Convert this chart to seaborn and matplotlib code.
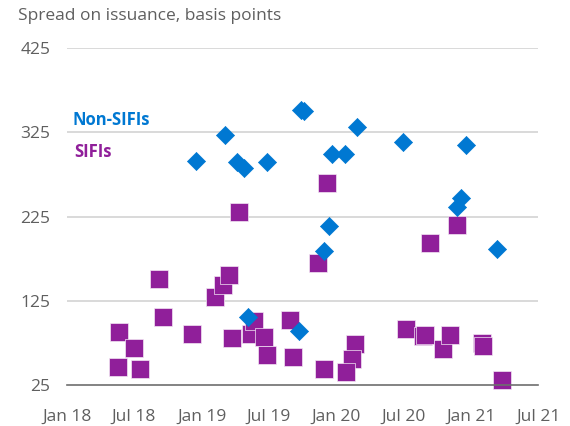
import matplotlib
matplotlib.use("Agg")
import matplotlib.pyplot as plt
import matplotlib.dates as mdates
import pandas as pd
import seaborn as sns

# ── Data ──────────────────────────────────────────────────────────────────────
non_sifi_dates = [
    "2018-12-18", "2019-03-06", "2019-04-08", "2019-04-27", "2019-06-26",
    "2019-05-08", "2019-09-22", "2019-09-27", "2019-10-05", "2019-11-29",
    "2019-12-12", "2019-12-20", "2020-01-25", "2020-02-27", "2020-07-01",
    "2020-12-18", "2020-12-05", "2020-11-22", "2021-03-11",
]
non_sifi_spread = [
    291, 322, 290, 283, 290,
    106, 89, 352, 350, 184,
    214, 299, 299, 331, 313,
    310, 247, 236, 186,
]

sifi_dates = [
    "2018-05-20", "2018-05-23", "2018-07-03", "2018-07-19", "2018-09-07",
    "2018-09-18", "2018-12-05", "2019-02-07", "2019-02-28", "2019-03-15",
    "2019-04-11", "2019-03-25", "2019-05-16", "2019-05-24", "2019-06-18",
    "2019-06-26", "2019-08-28", "2019-09-05", "2019-11-12", "2019-12-07",
    "2019-11-29", "2020-02-21", "2020-02-13", "2020-01-27", "2020-07-08",
    "2020-08-24", "2020-08-29", "2020-10-17", "2020-11-05", "2021-01-29",
    "2021-02-01", "2021-03-25", "2020-11-24", "2020-09-12",
]
sifi_spread = [
    46, 88, 69, 44, 151,
    106, 86, 130, 144, 156,
    230, 81, 86, 101, 82,
    61, 102, 58, 170, 265,
    44, 74, 56, 40, 92,
    83, 84, 68, 84, 75,
    72, 31, 215, 194,
]

y_ticks = [25, 125, 225, 325, 425]
x_tick_dates = ["2018-01-01", "2018-07-01", "2019-01-01", "2019-07-01",
                "2020-01-01", "2020-07-01", "2021-01-01", "2021-07-01"]
x_tick_labels = ["Jan 18", "Jul 18", "Jan 19", "Jul 19",
                 "Jan 20", "Jul 20", "Jan 21", "Jul 21"]

BLUE = "#0078d2"
PURPLE = "#901f9a"
GREY_TXT = "#5f5f5f"

# ── Plot ──────────────────────────────────────────────────────────────────────
sns.set_theme(style="white")
plt.rcParams["font.family"] = ["Open Sans", "DejaVu Sans"]

non_sifi = pd.DataFrame({"date": pd.to_datetime(non_sifi_dates), "spread": non_sifi_spread})
sifi = pd.DataFrame({"date": pd.to_datetime(sifi_dates), "spread": sifi_spread})

fig = plt.figure(figsize=(5.70, 4.26), dpi=100)
ax = fig.add_axes([0.1175, 0.096, 0.8265, 0.791])

for y in y_ticks[1:]:
    ax.axhline(y, color="#d9d9d9", lw=1.4, zorder=0)

sns.scatterplot(data=non_sifi, x="date", y="spread", marker="D", s=85,
                color=BLUE, edgecolor=BLUE, linewidth=0.5, ax=ax,
                clip_on=False, zorder=3)
sns.scatterplot(data=sifi, x="date", y="spread", marker="s", s=150,
                color=PURPLE, edgecolor="#f3e6f4", linewidth=0.5, ax=ax,
                clip_on=False, zorder=2)

ax.set_xlim(pd.Timestamp("2018-01-01"), pd.Timestamp("2021-07-01"))
ax.set_ylim(25, 425)
ax.set_yticks(y_ticks)
ax.set_xticks(mdates.date2num(pd.to_datetime(x_tick_dates)))
ax.set_xticklabels(x_tick_labels)
ax.set_xlabel("")
ax.set_ylabel("")

for side in ["top", "right", "left"]:
    ax.spines[side].set_visible(False)
ax.spines["bottom"].set_color("#6e6e6e")
ax.spines["bottom"].set_linewidth(1.2)
ax.tick_params(axis="x", direction="in", length=5, width=1.1, color="#6e6e6e",
               pad=17, labelsize=12.5, labelcolor=GREY_TXT)
ax.tick_params(axis="y", length=0, pad=12, labelsize=12.5, labelcolor=GREY_TXT)

fig.text(0.032, 0.962, "Spread on issuance, basis points", fontsize=12.5,
         color=GREY_TXT, va="center", ha="left")
ax.text(0.012, 0.786, "Non-SIFIs", transform=ax.transAxes, fontsize=12,
        fontweight="bold", color=BLUE, va="center")
ax.text(0.016, 0.691, "SIFIs", transform=ax.transAxes, fontsize=12,
        fontweight="bold", color=PURPLE, va="center")

fig.savefig("out.png", dpi=100)
